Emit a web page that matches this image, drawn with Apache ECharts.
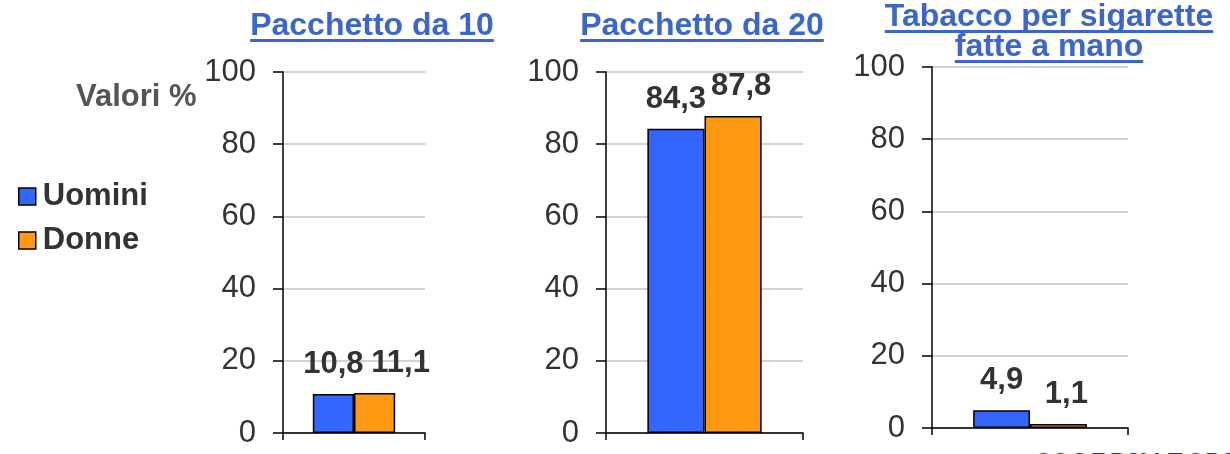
<!DOCTYPE html>
<html><head><meta charset="utf-8">
<script src="https://cdn.jsdelivr.net/npm/echarts@6/dist/echarts.min.js"></script>
<style>html,body{margin:0;padding:0;background:#fff}#c{width:1230px;height:454px}</style>
</head><body><div id="c"></div>
<script>
const panelTitles = ['Pacchetto da 10', 'Pacchetto da 20', 'Tabacco per sigarette\nfatte a mano'];
const seriesNames = ['Uomini', 'Donne'];
const uomini = [10.8, 84.3, 4.9];
const donne = [11.1, 87.8, 1.1];
const yMin = 0, yMax = 100, yStep = 20;
const yAxisName = 'Valori %';
const logoText = 'OSSERVATORIO';

const BLUE = '#3366ff', ORANGE = '#ff9914', TITLE = '#3b66cc';
const FONT = '"Liberation Sans", Arial, sans-serif';
const grids = [
  {left: 283, width: 142, top: 72, height: 361},
  {left: 606, width: 197, top: 72, height: 361},
  {left: 932, width: 196, top: 67, height: 361}
];
const titlePos = [{x: 372, y: 26}, {x: 702, y: 26}, {x: 1049, y: 17}];
const orangeOffset = [[26, 0], [8, 0], [8, 0]];
const TITLE_FONT = 'bold 32px ' + FONT;

const fmt = v => String(v).replace('.', ',');
const ctx = document.createElement('canvas').getContext('2d');
ctx.font = TITLE_FONT;

const graphics = [];
panelTitles.forEach((t, i) => {
  const lines = t.split('\n');
  lines.forEach((ln, j) => {
    const cy = titlePos[i].y + j * 30;
    graphics.push({type: 'text', x: titlePos[i].x, y: cy,
      style: {text: ln, fill: TITLE, font: TITLE_FONT, textAlign: 'center', textVerticalAlign: 'middle'}});
    const w = ctx.measureText(ln).width;
    graphics.push({type: 'rect', shape: {x: titlePos[i].x - w / 2, y: cy + 13, width: w, height: 3},
      style: {fill: TITLE}});
  });
});
graphics.push({type: 'text', x: 76, y: 97,
  style: {text: yAxisName, fill: '#555', font: 'bold 31px ' + FONT, textVerticalAlign: 'middle'}});
// partially visible logo text at the bottom edge
logoText.split('').forEach((ch, i) => {
  graphics.push({type: 'text', x: 1035 + i * 19, y: 450,
    style: {text: ch, fill: '#2a2f9e', font: 'bold 22px "Liberation Serif", serif', textVerticalAlign: 'top'}});
});

const option = {
  animation: false,
  backgroundColor: '#fff',
  textStyle: {fontFamily: FONT},
  legend: {
    data: seriesNames, orient: 'vertical', left: 13, top: 176, itemGap: 13,
    itemWidth: 17, itemHeight: 17, icon: 'rect',
    itemStyle: {borderColor: '#000', borderWidth: 1.5},
    textStyle: {fontSize: 31, fontWeight: 'bold', color: '#333', fontFamily: FONT, padding: [0, 0, 0, 2]}
  },
  grid: grids.map(g => Object.assign({containLabel: false}, g)),
  xAxis: grids.map((g, i) => ({
    type: 'category', gridIndex: i, data: [panelTitles[i]],
    axisLine: {lineStyle: {color: '#000', width: 1.5}},
    axisTick: {show: true, length: 7, lineStyle: {color: '#000', width: 1.5}},
    axisLabel: {show: false}
  })),
  yAxis: grids.map((g, i) => ({
    type: 'value', gridIndex: i, min: yMin, max: yMax, interval: yStep,
    axisLine: {show: true, lineStyle: {color: '#000', width: 1.5}},
    axisTick: {show: true, length: 10, lineStyle: {color: '#000', width: 1.5}},
    splitLine: {lineStyle: {color: '#c4c4c4', width: 1.5}},
    axisLabel: {fontSize: 31, color: '#333', margin: 27, fontFamily: FONT}
  })),
  series: [],
  graphic: graphics
};
grids.forEach((g, i) => {
  [uomini, donne].forEach((arr, k) => {
    option.series.push({
      type: 'bar', name: seriesNames[k], xAxisIndex: i, yAxisIndex: i,
      data: [arr[i]], barGap: '0%', barCategoryGap: '42%',
      itemStyle: {color: k === 0 ? BLUE : ORANGE, borderColor: '#000', borderWidth: 1.5},
      label: {show: true, position: 'top', distance: 14, formatter: p => fmt(p.value),
        fontSize: 31, fontWeight: 'bold', color: '#333', fontFamily: FONT,
        offset: k === 1 ? orangeOffset[i] : [0, 0]}
    });
  });
});
const chart = echarts.init(document.getElementById('c'), null, {renderer: 'canvas'});
chart.setOption(option);
</script></body></html>
